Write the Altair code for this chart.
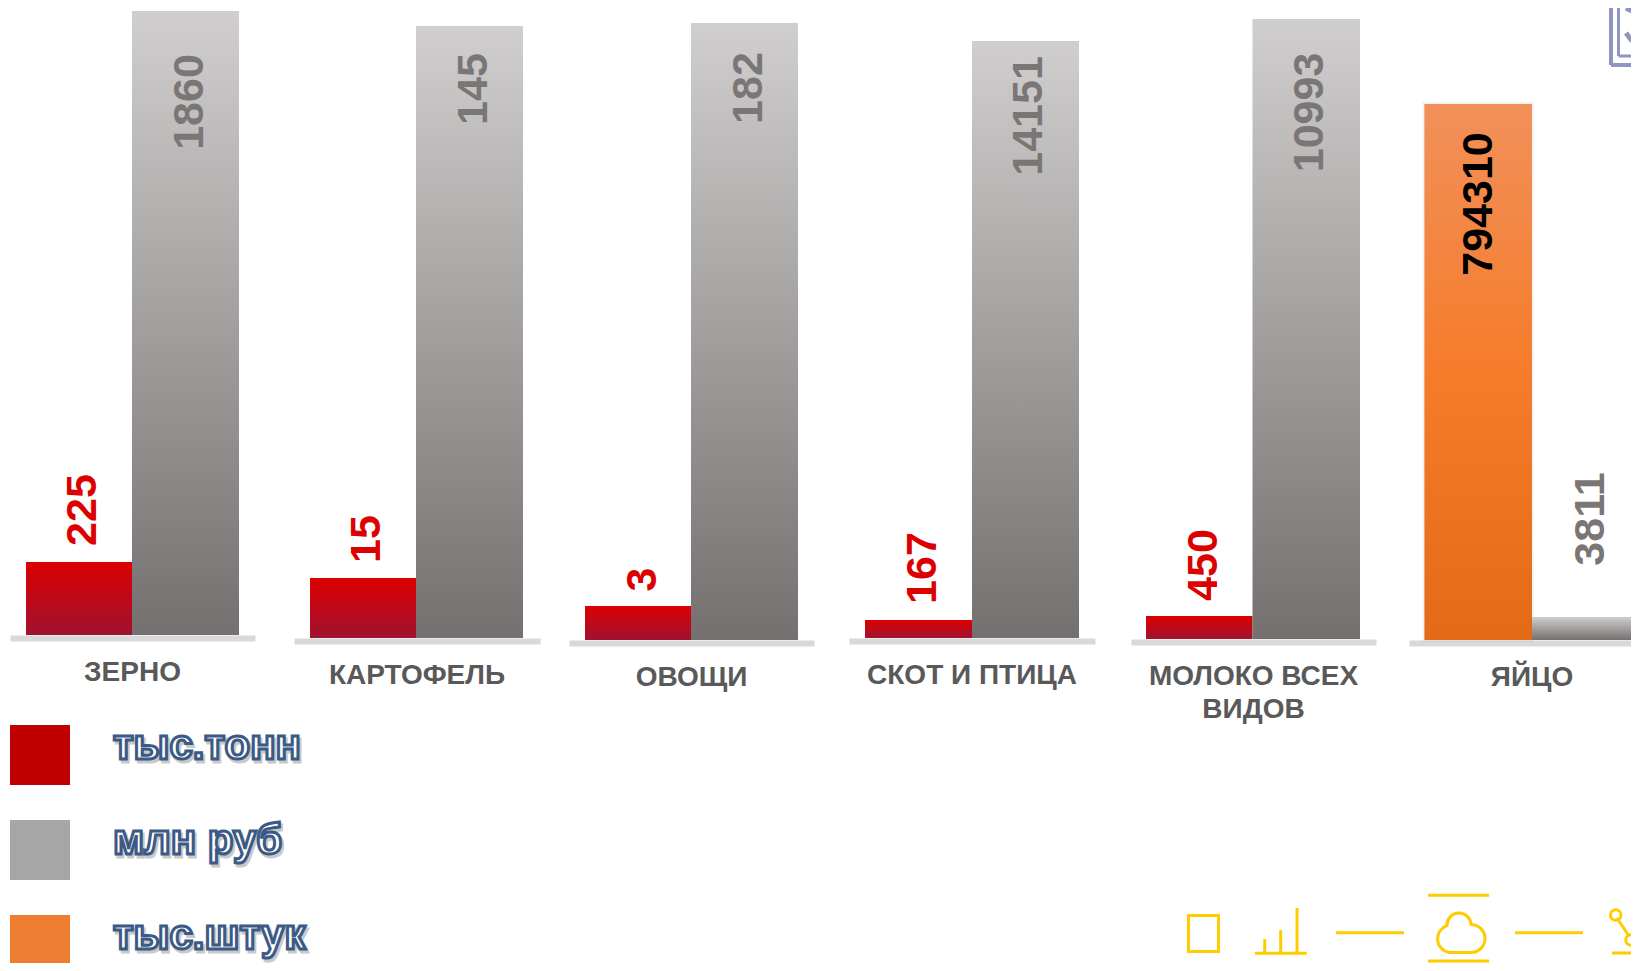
import altair as alt
import pandas as pd

# ---- chart values ----
categories = ["ЗЕРНО", "КАРТОФЕЛЬ", "ОВОЩИ", "СКОТ И ПТИЦА", "МОЛОКО ВСЕХ|ВИДОВ", "ЯЙЦО"]
tons = [225, 15, 3, 167, 450]
rub = [1860, 145, 182, 14151, 10993, 3811]
eggs_value = 794310
legend_series = ["тыс.тонн", "млн руб", "тыс.штук"]
legend_colors = ["#C00000", "#A6A6A6", "#ED7D31"]

# ---- layout options (page pixels) ----
M = 8
W, H = 1623, 955
FONT = "Liberation Sans"
# floor x0,x1, baseline, top of small bar, top of tall bar, first bar x0, split, last bar x1
GEOM = [
    (10, 255, 635, 562, 11, 26, 132, 239),
    (294, 540, 638, 578, 26, 310, 416, 523),
    (569, 814, 640, 606, 23, 585, 691, 798),
    (849, 1095, 638, 620, 41, 865, 972, 1079),
    (1131, 1376, 639, 616, 19, 1146, 1252.5, 1360),
    (1409, 1655, 640, 617, 104, 1424.5, 1532, 1639),
]
# label centres (page pixels): small/left bar label, tall/right bar label
LABEL_A = [(83, 510), (367, 539), (643, 579.5), (923, 568), (1204, 565), (1479, 204)]
LABEL_B = [(190, 102), (474, 89), (749, 88), (1029, 116), (1310, 112.5), (1591, 519)]
LABEL_SIZE = 43

GREY = alt.Gradient(gradient="linear", x1=0, x2=0, y1=0, y2=1,
                    stops=[alt.GradientStop(color="#D0CECE", offset=0),
                           alt.GradientStop(color="#757070", offset=1)])
RED = alt.Gradient(gradient="linear", x1=0, x2=0, y1=0, y2=1,
                   stops=[alt.GradientStop(color="#DC0000", offset=0),
                          alt.GradientStop(color="#A01230", offset=1)])
ORANGE = alt.Gradient(gradient="linear", x1=0, x2=0, y1=0, y2=1,
                      stops=[alt.GradientStop(color="#F2905A", offset=0),
                             alt.GradientStop(color="#F57C2A", offset=0.5),
                             alt.GradientStop(color="#E36A17", offset=1)])

layers = []


def xenc(series, a, b):
    return alt.X("series:N", axis=None,
                 scale=alt.Scale(type="band", domain=[series], range=[a - M, b - M],
                                 paddingInner=0, paddingOuter=0))


def yenc(dom, rng):
    return alt.Y("value:Q", axis=None,
                 scale=alt.Scale(domain=dom, range=[r - M for r in rng], nice=False, zero=False, clamp=False))


for i, (cat, g) in enumerate(zip(categories, GEOM)):
    fx0, fx1, base, small_top, tall_top, bx0, split, bx1 = g
    grey_val = rub[i]
    if i < 5:
        left_series, left_val, left_fill, left_text = legend_series[0], tons[i], RED, "#DD0000"
        dom = [0, left_val, grey_val]
        rng = [base, small_top, tall_top]
        right_top = tall_top
        left_top = small_top
    else:
        left_series, left_val, left_fill, left_text = legend_series[2], eggs_value, ORANGE, "#000000"
        dom = [0, grey_val, left_val]
        rng = [base, small_top, tall_top]
        right_top = small_top
        left_top = tall_top

    # floor & category label: the real x axis of this group
    axis_df = pd.DataFrame({"cat": [cat]})
    layers.append(
        alt.Chart(axis_df).mark_rule(opacity=0).encode(
            x=alt.X("cat:N", title=None,
                    scale=alt.Scale(type="band", domain=[cat], range=[fx0 - M, fx1 - M],
                                    paddingInner=0, paddingOuter=0),
                    axis=alt.Axis(orient="bottom", offset=-(H - (base + 3 - M)), domainColor="#D9D9D9",
                                  domainWidth=6, ticks=False, grid=False, labelAngle=0, labelAlign="center",
                                  labelBaseline="middle", labelFont=FONT, labelFontWeight="bold",
                                  labelFontSize=28, labelColor="#595959", labelPadding=34, labelLimit=400,
                                  labelLineHeight=33, labelOverlap=False, labelFlush=False,
                                  labelExpr="split(datum.label, '|')")),
        )
    )

    left_df = pd.DataFrame({"series": [left_series], "value": [left_val]})
    right_df = pd.DataFrame({"series": [legend_series[1]], "value": [grey_val]})
    if i == 5:
        layers.append(alt.Chart(left_df).mark_bar(color="#777777", opacity=0.35, stroke="#777777",
                                                  strokeWidth=4, strokeOpacity=0.25).encode(
            x=xenc(left_series, bx0, split), y=yenc(dom, rng)))
    layers.append(alt.Chart(left_df).mark_bar(color=left_fill).encode(
        x=xenc(left_series, bx0, split), y=yenc(dom, rng)))
    layers.append(alt.Chart(right_df).mark_bar(color=GREY).encode(
        x=xenc(legend_series[1], split, bx1), y=yenc(dom, rng)))

    # value labels
    lx, ly = LABEL_A[i]
    layers.append(alt.Chart(left_df).mark_text(
        angle=270, align="center", baseline="middle", font=FONT, fontWeight="bold", fontSize=LABEL_SIZE,
        color=left_text, xOffset=lx - (bx0 + split) / 2, yOffset=ly - left_top).encode(
        x=xenc(left_series, bx0, split), y=yenc(dom, rng), text=alt.Text("value:Q", format="d")))
    rx, ry = LABEL_B[i]
    layers.append(alt.Chart(right_df).mark_text(
        angle=270, align="center", baseline="middle", font=FONT, fontWeight="bold", fontSize=LABEL_SIZE,
        color="#7A7676", xOffset=rx - (split + bx1) / 2, yOffset=ry - right_top).encode(
        x=xenc(legend_series[1], split, bx1), y=yenc(dom, rng), text=alt.Text("value:Q", format="d")))

# ---- legend ----
leg_df = pd.DataFrame({"series": legend_series})
ly_enc = alt.Y("series:N", axis=None, scale=alt.Scale(type="point", domain=legend_series,
                                                      range=[755 - M, 945 - M], padding=0))
layers.append(alt.Chart(leg_df).mark_square(size=3600, opacity=1, strokeWidth=0).encode(
    x=alt.value(40 - M), y=ly_enc,
    color=alt.Color("series:N", legend=None, scale=alt.Scale(domain=legend_series, range=legend_colors))))
text_style = dict(align="left", baseline="alphabetic", font=FONT, fontSize=42, fontWeight="bold")
layers.append(alt.Chart(leg_df).mark_text(fill="#888888", stroke="#888888", strokeWidth=3, opacity=0.45,
                                          dx=2, dy=7, **text_style).encode(
    x=alt.value(113 - M), y=ly_enc, text="series:N"))
layers.append(alt.Chart(leg_df).mark_text(fill="#FFFFFF", stroke="#3B5A86", strokeWidth=3, dy=4, **text_style).encode(
    x=alt.value(113 - M), y=ly_enc, text="series:N"))


# ---- decorative icons ----
def seg(x1, y1, x2, y2, color="#FFCC00", width=3):
    return alt.Chart().mark_rule(color=color, strokeWidth=width).encode(
        x=alt.value(x1 - M), x2=alt.value(x2 - M), y=alt.value(y1 - M), y2=alt.value(y2 - M))


layers.append(alt.Chart().mark_rect(fillOpacity=0, stroke="#FFCC00", strokeWidth=3).encode(
    x=alt.value(1188.5 - M), x2=alt.value(1218.5 - M), y=alt.value(915.5 - M), y2=alt.value(951.5 - M)))
layers += [
    seg(1255, 953.3, 1306.7, 953.3), seg(1264.7, 953, 1264.7, 939), seg(1280.7, 953, 1280.7, 930),
    seg(1297, 953, 1297, 908), seg(1336, 932.7, 1404, 932.7), seg(1428, 895.3, 1489, 895.3),
    seg(1428, 961, 1489, 961), seg(1515, 932.7, 1583, 932.7), seg(1612, 953, 1639, 953),
    seg(1617, 918, 1629, 936), seg(1635, 937, 1639, 934),
]
CLOUD = "M -11 21 L 11 21 A 14 14 0 0 0 11 -7 A 12 12 0 0 0 -13 -6 A 14 14 0 0 0 -11 21 Z"
layers.append(alt.Chart().mark_point(shape=CLOUD, size=4, filled=False, stroke="#FFCC00", strokeWidth=3, opacity=1).encode(
    x=alt.value(1460 - M), y=alt.value(931.5 - M)))
for cx, cy in [(1615.7, 915), (1631, 940)]:
    layers.append(alt.Chart().mark_point(shape="circle", size=110, filled=False, stroke="#FFCC00", strokeWidth=3, opacity=1).encode(
        x=alt.value(cx - M), y=alt.value(cy - M)))
PURPLE = "#8F94C0"
layers += [
    seg(1611, 8, 1611, 65, PURPLE, 4), seg(1611, 65, 1639, 65, PURPLE, 4),
    seg(1618.5, 8, 1618.5, 56, PURPLE, 3), seg(1618.5, 56, 1639, 56, PURPLE, 3),
    seg(1626, 33, 1632, 41, PURPLE, 5), seg(1632, 41, 1639, 28, PURPLE, 5),
    seg(1626, 8, 1632, 11, PURPLE, 5), seg(1632, 11, 1636, 8, PURPLE, 5),
]

chart = (
    alt.layer(*layers)
    .resolve_scale(x="independent", y="independent")
    .properties(width=W, height=H, padding=0, autosize=alt.AutoSizeParams(type="none"), background="white")
    .configure_view(stroke=None)
)
chart.save("out.html", embed_options={"renderer": "svg", "actions": False})
